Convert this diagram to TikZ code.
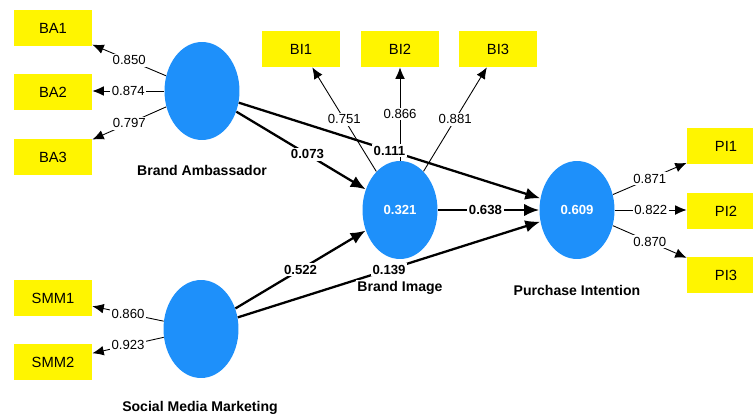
\documentclass[tikz,border=0pt]{standalone}
\usepackage{fontspec}
\setmainfont{Liberation Sans}
\usetikzlibrary{arrows.meta,shapes.geometric,positioning}
\definecolor{LatentBlue}{RGB}{30,144,250}
\definecolor{ItemYellow}{RGB}{255,245,0}

\begin{document}
\begin{tikzpicture}[x=0.02cm,y=-0.02cm,
  item/.style={fill=ItemYellow,minimum width=1.56cm,minimum height=0.72cm,inner sep=0pt,font=\fontsize{8.4}{10}\selectfont},
  latent/.style={ellipse,fill=LatentBlue,minimum width=1.5cm,minimum height=1.96cm,inner sep=0pt,text=white,font=\bfseries\fontsize{7.5}{9}\selectfont},
  lvname/.style={fill=white,inner sep=1pt,font=\bfseries\fontsize{8}{10}\selectfont},
  loadarrow/.style={-{Latex[length=6.5pt,width=5.5pt]},line width=0.5pt},
  structarrow/.style={-{Latex[length=8.5pt,width=7pt]},line width=1.3pt},
  loadlbl/.style={fill=white,inner sep=1pt,font=\fontsize{7.5}{9}\selectfont},
  structlbl/.style={fill=white,inner sep=1pt,font=\bfseries\fontsize{7.5}{9}\selectfont}]
  \useasboundingbox (0,0) rectangle (753,419);

  % latent variables
  \node[latent] (BA) at (202,91) {};
  \node[latent] (SMM) at (201,329) {};
  \node[latent] (BI) at (400,210) {0.321};
  \node[latent] (PI) at (577,210) {0.609};

  % indicators
  \node[item] (BA1) at (53,28) {BA1};
  \node[item] (BA2) at (53,92) {BA2};
  \node[item] (BA3) at (53,157) {BA3};
  \node[item] (SMM1) at (53,298) {SMM1};
  \node[item] (SMM2) at (53,362) {SMM2};
  \node[item] (BI1) at (301,49) {BI1};
  \node[item] (BI2) at (400,49) {BI2};
  \node[item] (BI3) at (498,49) {BI3};
  \node[item] (PI1) at (726,146) {PI1};
  \node[item] (PI2) at (726,211) {PI2};
  \node[item] (PI3) at (726,275) {PI3};

  % outer loadings
  \draw[loadarrow] (BA) -- (BA1) node[loadlbl,pos=0.5] {0.850};
  \draw[loadarrow] (BA.west) -- (BA2.east |- BA.west) node[loadlbl,pos=0.5] {0.874};
  \draw[loadarrow] (BA) -- (BA3) node[loadlbl,pos=0.5] {0.797};
  \draw[loadarrow] (SMM) -- (SMM1) node[loadlbl,pos=0.5] {0.860};
  \draw[loadarrow] (SMM) -- (SMM2) node[loadlbl,pos=0.5] {0.923};
  \draw[loadarrow] (BI) -- (BI1) node[loadlbl,pos=0.5] {0.751};
  \draw[loadarrow] (BI) -- (BI2) node[loadlbl,pos=0.5] {0.866};
  \draw[loadarrow] (BI) -- (BI3) node[loadlbl,pos=0.5] {0.881};
  \draw[loadarrow] (PI) -- (PI1) node[loadlbl,pos=0.5] {0.871};
  \draw[loadarrow] (PI.east) -- (PI2.west |- PI.east) node[loadlbl,pos=0.5] {0.822};
  \draw[loadarrow] (PI) -- (PI3) node[loadlbl,pos=0.5] {0.870};

  % path coefficients
  \draw[structarrow] (BA) -- (BI) node[structlbl,pos=0.55] {0.073};
  \draw[structarrow] (BA) -- (PI) node[structlbl,pos=0.5] {0.111};
  \draw[structarrow] (SMM) -- (BI) node[structlbl,pos=0.5] {0.522};
  \draw[structarrow] (SMM) -- (PI) node[structlbl,pos=0.5] {0.139};
  \draw[structarrow] (BI) -- (PI) node[structlbl,pos=0.47] {0.638};

  \node[lvname] (BAname) at (202,170) {Brand Ambassador};
  \node[lvname] (BIname) at (400,288) {Brand Image};
  \node[lvname] (PIname) at (577,290) {Purchase Intention};
  \node[lvname] (SMMname) at (200,408) {Social Media Marketing};
\end{tikzpicture}
\end{document}
